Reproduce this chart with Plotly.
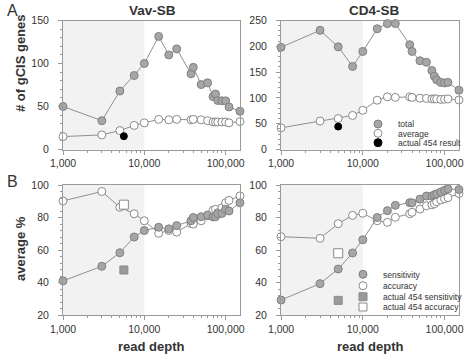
import plotly.graph_objects as go
import math

depth = [1000, 3000, 5000, 7500, 10000, 15000, 20000, 25000, 37500, 40000,
         50000, 60000, 70000, 75000, 80000, 90000, 100000, 110000, 150000]

vav_total = [50, 33.5, 68, 86, 100, 131.5, 110, 117, 88, 95.5, 75.5, 77.5, 61.5, 64.5, 57, 56.6, 56.6, 49.5, 44.5]
vav_avg = [15, 17, 22, 28, 31, 35, 34.5, 35, 34.5, 35, 34.5, 33.5, 32, 32, 32, 32, 32, 31, 32.5]
vav_actual_depth = [5600]
vav_actual = [15.5]

cd4_total = [198, 231, 199, 161, 190, 234, 244, 244, 203, 190, 172, 169, 153, 142, 135, 130, 129, 130, 115]
cd4_avg = [42, 55, 60, 66, 76, 95.5, 102, 101, 102, 101, 99.5, 99, 98, 98, 98, 97, 97.5, 98, 96]
cd4_actual_depth = [5000]
cd4_actual = [44.5]

vav_sens = [41, 50, 58.3, 68, 72, 74, 73, 75, 78, 80, 80.5, 81.5, 80.3, 80.5, 82.3, 82.5, 85, 84, 89]
vav_acc = [90.2, 96, 86.3, 82.3, 78, 70.3, 72, 71, 76.3, 76, 78, 81, 84.5, 85, 83, 86, 89, 90.5, 93.3]
vav_actual_sens = [47.7]
vav_actual_acc = [87.9]

cd4_sens = [29.2, 39.3, 48.3, 58.2, 66.3, 80, 84.2, 87.5, 89.1, 89, 91.3, 93.2, 93.2, 94, 94.6, 95.7, 96.7, 97.6, 97.2]
cd4_acc = [68.2, 67.2, 76.2, 81.3, 82.6, 78, 77, 80.1, 82.3, 83.2, 85.2, 87.2, 87.8, 88.5, 89.7, 90.8, 91.5, 92.2, 94.7]
cd4_actual_sens = [29]
cd4_actual_acc = [58]

x_ticks = [1000, 10000, 100000]
x_ticktext = ["1,000", "10,000", "100,000"]

FONT = "Liberation Sans, Arial, sans-serif"
LINE = "#8f8f8f"
FILL = "#a6a6a6"
EDGE = "#808080"
SHADE = "#f2f2f2"
AXC = "#9a9a9a"

W, H = 466, 357

def px2x(a, b):
    return [a / W, b / W]

def px2y(top, bottom):
    return [1 - bottom / H, 1 - top / H]

xdom_l = px2x(63, 240)
xdom_r = px2x(281, 459)
ydom_t = px2y(20.5, 149.5)
ydom_b = px2y(185, 315)

fig = go.Figure()

def add_series(x, y, xa, ya, filled):
    fig.add_trace(go.Scatter(
        x=x, y=y, xaxis=xa, yaxis=ya, mode="lines+markers",
        line=dict(color=LINE, width=1),
        marker=dict(size=8, symbol="circle",
                    color=FILL if filled else "white",
                    line=dict(color=EDGE if filled else "#8a8a8a", width=1)),
        cliponaxis=False, showlegend=False, hoverinfo="x+y"))

def add_point(x, y, xa, ya, symbol, color, edge, size):
    fig.add_trace(go.Scatter(
        x=x, y=y, xaxis=xa, yaxis=ya, mode="markers",
        marker=dict(size=size, symbol=symbol, color=color, line=dict(color=edge, width=1)),
        cliponaxis=False, showlegend=False))

# top-left (Vav-SB)
add_series(depth, vav_avg, "x", "y", False)
add_series(depth, vav_total, "x", "y", True)
add_point(vav_actual_depth, vav_actual, "x", "y", "circle", "black", "black", 7)
# top-right (CD4-SB)
add_series(depth, cd4_avg, "x2", "y2", False)
add_series(depth, cd4_total, "x2", "y2", True)
add_point(cd4_actual_depth, cd4_actual, "x2", "y2", "circle", "black", "black", 7)
# bottom-left
add_series(depth, vav_acc, "x3", "y3", False)
add_series(depth, vav_sens, "x3", "y3", True)
add_point(vav_actual_depth, vav_actual_sens, "x3", "y3", "square", "#9a9a9a", "#8a8a8a", 8)
add_point(vav_actual_depth, vav_actual_acc, "x3", "y3", "square", "white", "#8a8a8a", 9)
# bottom-right
add_series(depth, cd4_acc, "x4", "y4", False)
add_series(depth, cd4_sens, "x4", "y4", True)
add_point(cd4_actual_depth, cd4_actual_sens, "x4", "y4", "square", "#9a9a9a", "#8a8a8a", 8)
add_point(cd4_actual_depth, cd4_actual_acc, "x4", "y4", "square", "white", "#8a8a8a", 9)

# legend-only entries
legend_items = [
    ("total", "circle", FILL, EDGE, "legend"),
    ("average", "circle", "white", "#8a8a8a", "legend2"),
    ("actual 454 result", "circle", "black", "black", "legend3"),
    ("sensitivity", "circle", FILL, EDGE, "legend4"),
    ("accuracy", "circle", "white", "#8a8a8a", "legend5"),
    ("actual 454 sensitivity", "square", "#9a9a9a", "#8a8a8a", "legend6"),
    ("actual 454 accuracy", "square", "white", "#8a8a8a", "legend7"),
]
for name, sym, col, edge, lg in legend_items:
    fig.add_trace(go.Scatter(
        x=[None], y=[None], mode="markers", name=name, legend=lg,
        marker=dict(size=8, symbol=sym, color=col, line=dict(color=edge, width=1)),
        showlegend=True))

# shaded region 1,000 - 10,000
for xa in ["x", "x2", "x3", "x4"]:
    ya = "y" + xa[1:]
    fig.add_shape(type="rect", xref=xa, yref=ya + " domain", x0=1000, x1=10000,
                  y0=0, y1=1, fillcolor=SHADE, line=dict(width=0), layer="below")

xr = [math.log10(1000) - 0.0005, math.log10(150000) + 0.0005]

def xaxis(dom, anchor):
    return dict(domain=dom, anchor=anchor, type="log", range=xr,
                tickvals=x_ticks, ticktext=x_ticktext,
                ticks="outside", ticklen=4, tickcolor=AXC,
                minor=dict(ticks="outside", ticklen=2, tickcolor=AXC, dtick="D1"),
                showline=True, linecolor=AXC, linewidth=1, mirror=True,
                showgrid=False, zeroline=False, automargin=False,
                tickfont=dict(family=FONT, size=10.5, color="#333"))

def yaxis(dom, anchor, rng, dt, mdt):
    return dict(domain=dom, anchor=anchor, range=rng, dtick=dt, tick0=0,
                ticks="outside", ticklen=4, tickcolor=AXC,
                minor=dict(ticks="outside", ticklen=2, tickcolor=AXC, dtick=mdt, tick0=0),
                showline=True, linecolor=AXC, linewidth=1, mirror=True,
                showgrid=False, zeroline=False, automargin=False,
                ticklabelstandoff=7,
                tickfont=dict(family=FONT, size=10.5, color="#333"))

def leg(xpx, ypx):
    return dict(x=xpx / W, y=1 - ypx / H, xanchor="left", yanchor="middle",
                bgcolor="rgba(0,0,0,0)", borderwidth=0,
                font=dict(family=FONT, size=8.5, color="#333"),
                itemwidth=30, tracegroupgap=0)

fig.update_layout(
    width=W, height=H, margin=dict(l=0, r=0, t=0, b=0, autoexpand=False),
    paper_bgcolor="white", plot_bgcolor="white",
    font=dict(family=FONT, color="#333"),
    xaxis=xaxis(xdom_l, "y"), yaxis=yaxis(ydom_t, "x", [0, 150], 50, 10),
    xaxis2=xaxis(xdom_r, "y2"), yaxis2=yaxis(ydom_t, "x2", [0, 250], 50, 10),
    xaxis3=xaxis(xdom_l, "y3"), yaxis3=yaxis(ydom_b, "x3", [20, 100], 20, 4),
    xaxis4=xaxis(xdom_r, "y4"), yaxis4=yaxis(ydom_b, "x4", [20, 100], 20, 4),
    legend=leg(358, 124), legend2=leg(358, 133.3), legend3=leg(358, 142.7),
    legend4=leg(343, 274.3), legend5=leg(343, 285.7), legend6=leg(343, 296.7),
    legend7=leg(343, 307),
    showlegend=True,
)

annots = [
    dict(text="A", x=12 / W, y=1 - 10 / H, size=16, bold=False, angle=0),
    dict(text="B", x=12 / W, y=1 - 181 / H, size=16, bold=False, angle=0),
    dict(text="Vav-SB", x=152 / W, y=1 - 10 / H, size=13.5, bold=True, angle=0),
    dict(text="CD4-SB", x=374 / W, y=1 - 10 / H, size=13.5, bold=True, angle=0),
    dict(text="# of gCIS genes", x=20 / W, y=1 - 63 / H, size=13, bold=True, angle=-90),
    dict(text="average %", x=20 / W, y=1 - 249 / H, size=13, bold=True, angle=-90),
    dict(text="read depth", x=151 / W, y=1 - 346 / H, size=13, bold=True, angle=0),
    dict(text="read depth", x=370 / W, y=1 - 346 / H, size=13, bold=True, angle=0),
]
for a in annots:
    fig.add_annotation(
        text="<b>%s</b>" % a["text"] if a["bold"] else a["text"],
        x=a["x"], y=a["y"], xref="paper", yref="paper",
        xanchor="center", yanchor="middle", showarrow=False, textangle=a["angle"],
        font=dict(family=FONT, size=a["size"], color="#333"))

fig.write_html("out.html", config={"staticPlot": True, "displayModeBar": False},
               post_script="document.body.style.margin='0px';document.body.style.overflow='hidden';")
